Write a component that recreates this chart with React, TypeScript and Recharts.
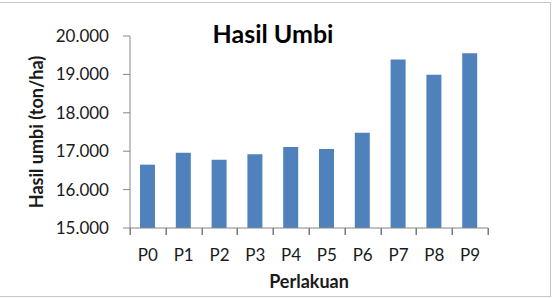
import React from "react";
import { BarChart, Bar, XAxis, YAxis, Label } from "recharts";

const categories = ["P0", "P1", "P2", "P3", "P4", "P5", "P6", "P7", "P8", "P9"];
const hasilUmbi = [16.65, 16.96, 16.78, 16.92, 17.11, 17.06, 17.48, 19.39, 18.99, 19.55];
const yTicks = [15, 16, 17, 18, 19, 20];

const data = categories.map((name, i) => ({ name, value: hasilUmbi[i] }));

const FONT = "Lato, 'Open Sans', sans-serif";
const AXIS = "#868686";
const TICK_SIZE = 7;
const TICK_MARGIN = 14;
const MARGIN = { top: 36, right: 67, bottom: 8, left: 0 };
const Y_AXIS_W = 130;
const PLOT_W = 555 - MARGIN.left - MARGIN.right - Y_AXIS_W;

// category label plus Excel-style tick marks between the categories
function CategoryTick(props: any) {
  const { x, y, payload, index } = props;
  const count = Number(props.visibleTicksCount) || categories.length;
  const band = PLOT_W / count;
  const axisY = Number(y) - TICK_SIZE - TICK_MARGIN;
  const left = Math.round(Number(x) - band / 2);
  const right = Math.round(Number(x) + band / 2);
  return (
    <g>
      <rect x={left - 0.5} y={axisY} width={1.5} height={TICK_SIZE} fill="#7a7a7a" />
      {index === count - 1 && (
        <rect x={right - 0.5} y={axisY} width={1.5} height={TICK_SIZE} fill="#7a7a7a" />
      )}
      <text x={x} y={y} dy="0.71em" textAnchor="middle" fill="#1a1a1a" fontSize={17} fontFamily={FONT}>
        {payload.value}
      </text>
    </g>
  );
}

export default function App() {
  return (
    <div style={{ position: "absolute", left: 0, top: 0, width: 555, height: 298, background: "#fff" }}>
      {/* chart frame */}
      <div
        style={{
          position: "absolute", left: -1, top: 2, width: 552, height: 295,
          border: "1px solid #c6c6c6", boxSizing: "border-box",
        }}
      />
      <div
        style={{
          position: "absolute", left: 0, top: 21, width: 546, textAlign: "center",
          fontFamily: FONT, fontWeight: 700, fontSize: 25, lineHeight: "25px", color: "#000",
        }}
      >
        Hasil Umbi
      </div>
      <BarChart
        width={555}
        height={298}
        data={data}
        margin={MARGIN}
        barSize={15}
        style={{ position: "absolute", left: 0, top: 0 }}
      >
        <XAxis
          dataKey="name"
          height={62}
          tickLine={false}
          tickSize={TICK_SIZE}
          tickMargin={TICK_MARGIN}
          axisLine={{ stroke: AXIS }}
          tick={(p: any) => <CategoryTick {...p} />}
          interval={0}
        >
          <Label
            value="Perlakuan"
            position="insideBottom"
            offset={2}
            style={{ fill: "#1a1a1a", fontSize: 18, fontWeight: 700, fontFamily: FONT }}
          />
        </XAxis>
        <YAxis
          width={Y_AXIS_W}
          domain={[15, 20]}
          ticks={yTicks}
          allowDataOverflow
          tickFormatter={(v: number) => v.toFixed(3)}
          tickSize={TICK_SIZE}
          tickMargin={TICK_MARGIN}
          tickLine={{ stroke: AXIS }}
          axisLine={{ stroke: AXIS }}
          tick={{ fill: "#1a1a1a", fontSize: 17, fontFamily: FONT }}
        >
          <Label
            content={() => (
              <text
                x={43}
                y={132}
                transform="rotate(-90 43 132)"
                textAnchor="middle"
                style={{ fill: "#1a1a1a", fontSize: 18, fontWeight: 700, fontFamily: FONT }}
              >
                Hasil umbi (ton/ha)
              </text>
            )}
          />
        </YAxis>
        <Bar dataKey="value" fill="#4f81bd" isAnimationActive={false} />
      </BarChart>
    </div>
  );
}
